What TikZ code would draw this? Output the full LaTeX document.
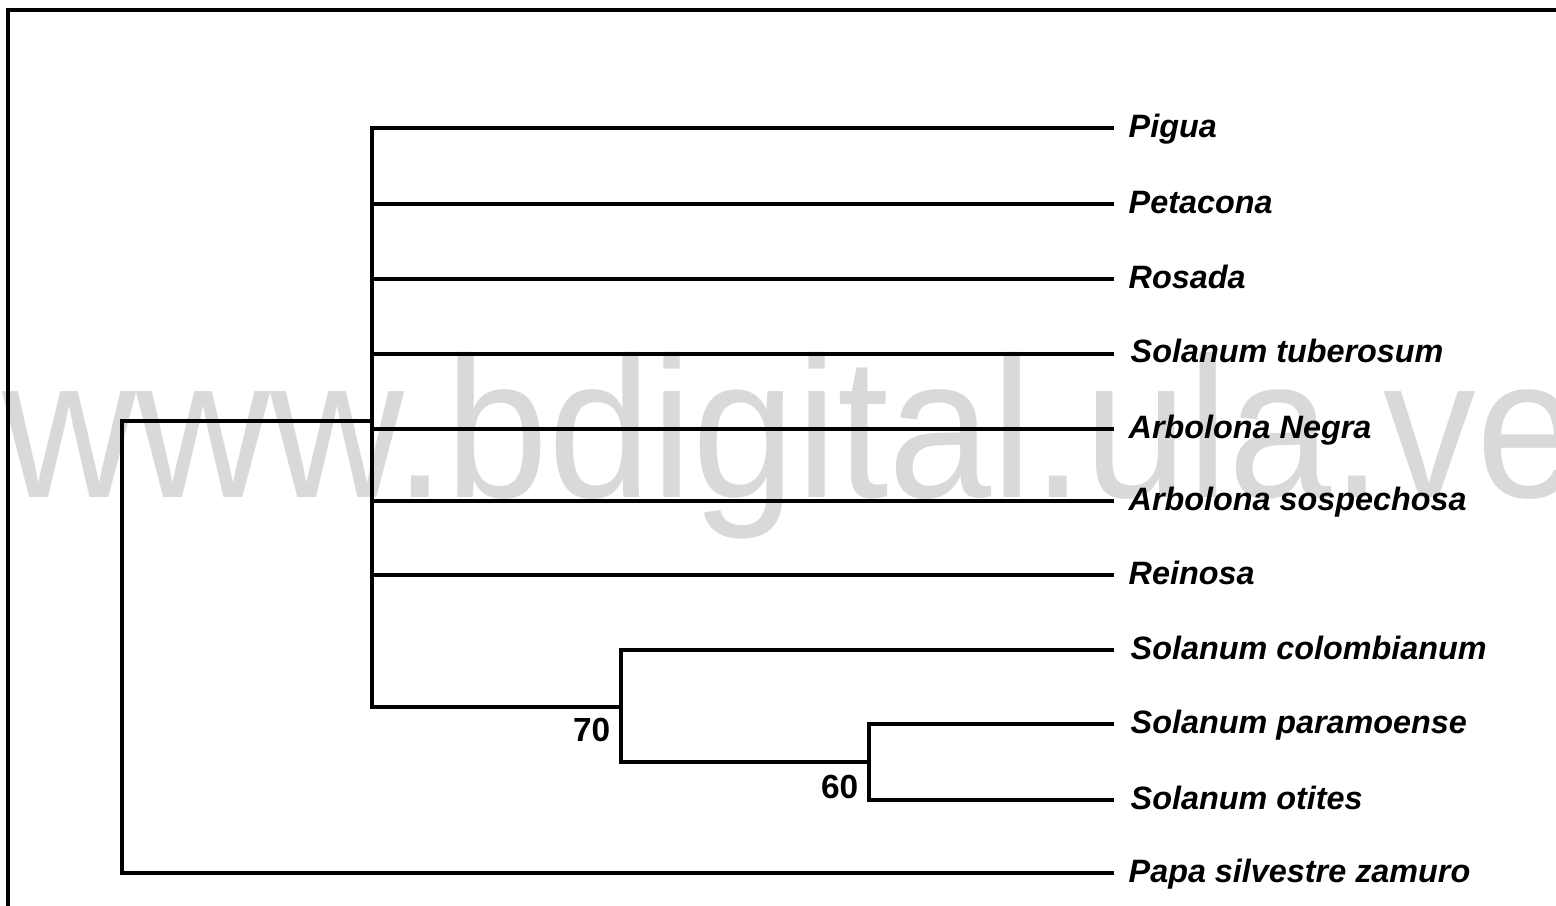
\documentclass[tikz,border=0pt]{standalone}
\usepackage{fontspec}
\setmainfont{Liberation Sans}

\definecolor{grigiomarca}{gray}{0.85}

\tikzset{
	ramo/.style={line width=0.95pt, line cap=rect},
	foglia/.style={anchor=base west, inner sep=0pt, font=\bfseries\itshape\fontsize{9.2}{11}\selectfont},
	supporto/.style={anchor=base east, inner sep=0pt, font=\bfseries\fontsize{9.5}{11}\selectfont},
	filigrana/.style={anchor=base west, inner sep=0pt, text=grigiomarca, xscale=0.925, font=\fontsize{57}{57}\selectfont},
}

\begin{document}
\begin{tikzpicture}[x=0.01cm, y=-0.01cm]
				\useasboundingbox (0,0) rectangle (1556,906);
				\clip (0,0) rectangle (1556,906);
				
				% Filigrana
				\node[filigrana] (marca) at (2,498) {www.bdigital.ula.ve};
				
				% Cornice
				\draw[line width=1pt] (8,10) rectangle (1600,960);
				
				% Estremi dei rami
				\coordinate (tPigua) at (1112,128);
				\coordinate (tPetacona) at (1112,204);
				\coordinate (tRosada) at (1112,279);
				\coordinate (tTuberosum) at (1112,354);
				\coordinate (tNegra) at (1112,429);
				\coordinate (tSospechosa) at (1112,501);
				\coordinate (tReinosa) at (1112,575);
				\coordinate (tColombianum) at (1112,650);
				\coordinate (tParamoense) at (1112,724);
				\coordinate (tOtites) at (1112,800);
				\coordinate (tZamuro) at (1112,873);
				
				% Nodi interni
				\coordinate (nRadice) at (122,421);
				\coordinate (nA) at (372,421);
				\coordinate (n70) at (621,707);
				\coordinate (n60) at (869,762);
				
				% Nomi delle foglie
				\node[foglia] (pigua) at (1128,137) {Pigua};
				\node[foglia] (petacona) at (1128,213) {Petacona};
				\node[foglia] (rosada) at (1128,288) {Rosada};
				\node[foglia] (tuberosum) at (1130,363) {Solanum tuberosum};
				\node[foglia] (negra) at (1128,438) {Arbolona Negra};
				\node[foglia] (sospechosa) at (1128,510) {Arbolona sospechosa};
				\node[foglia] (reinosa) at (1128,584) {Reinosa};
				\node[foglia] (colombianum) at (1130,659) {Solanum colombianum};
				\node[foglia] (paramoense) at (1130,733) {Solanum paramoense};
				\node[foglia] (otites) at (1130,809) {Solanum otites};
				\node[foglia] (zamuro) at (1128,882) {Papa silvestre zamuro};
				
				% Valori di supporto
				\node[supporto] (s70) at (611,741) {70};
				\node[supporto] (s60) at (859,798) {60};
				
				% Rami del clade grande
				\draw[ramo] (nRadice) -- (nA);
				\draw[ramo] (nA |- tPigua) -- (nA |- n70);
				\draw[ramo] (nA |- tPigua) -- (tPigua);
				\draw[ramo] (nA |- tPetacona) -- (tPetacona);
				\draw[ramo] (nA |- tRosada) -- (tRosada);
				\draw[ramo] (nA |- tTuberosum) -- (tTuberosum);
				\draw[ramo] (nA |- tNegra) -- (tNegra);
				\draw[ramo] (nA |- tSospechosa) -- (tSospechosa);
				\draw[ramo] (nA |- tReinosa) -- (tReinosa);
				
				% Sottoclade 70
				\draw[ramo] (nA |- n70) -- (n70);
				\draw[ramo] (n70 |- tColombianum) -- (n70 |- n60);
				\draw[ramo] (n70 |- tColombianum) -- (tColombianum);
				
				% Sottoclade 60
				\draw[ramo] (n70 |- n60) -- (n60);
				\draw[ramo] (n60 |- tParamoense) -- (n60 |- tOtites);
				\draw[ramo] (n60 |- tParamoense) -- (tParamoense);
				\draw[ramo] (n60 |- tOtites) -- (tOtites);
				
				% Gruppo esterno
				\draw[ramo] (nRadice) -- (nRadice |- tZamuro) -- (tZamuro);
			\end{tikzpicture}
\end{document}
